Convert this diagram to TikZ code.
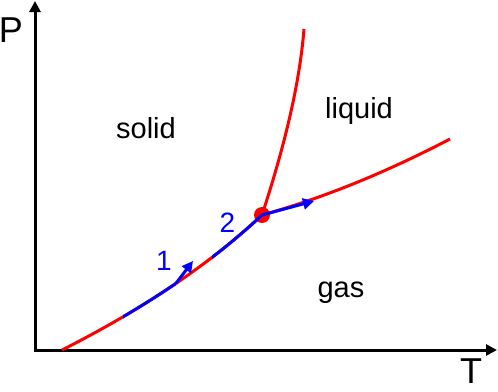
\documentclass[tikz,border=0pt]{standalone}
\usepackage{fontspec}
\setmainfont{Liberation Sans}
\usetikzlibrary{arrows.meta}

\begin{document}
\begin{tikzpicture}[x=1pt, y=-1pt, >={Triangle[length=11pt,width=11pt]},
  boundary/.style={red, line width=3pt},
  process/.style={blue, line width=3pt},
  region/.style={font=\fontsize{29}{29}\selectfont, anchor=base, inner sep=0pt},
  axislabel/.style={font=\fontsize{36}{36}\selectfont, anchor=base, inner sep=0pt}]
  \useasboundingbox (0,0) rectangle (498,391);

  % Axes
  \coordinate (O) at (35,350);
  \coordinate (Ptop) at (35,1);
  \coordinate (Tend) at (497,350);
  \draw[<->, line width=3pt] (Ptop) -- (O) -- (Tend);
  \node[axislabel] (P) at (11,42) {P};
  \node[axislabel] (T) at (471,383) {T};

  % Triple point and ends of the curves
  \coordinate (TP) at (262,215);
  \coordinate (S0) at (62,350);
  \coordinate (M1) at (304,29);
  \coordinate (V1) at (450,139);

  % Phase boundaries
  \draw[boundary] (S0) .. controls (143,309) and (210,264) .. (TP)
    coordinate[pos=0.515] (A1);
  \draw[boundary] (TP) .. controls (280,160) and (299,92) .. (M1);
  \draw[boundary] (TP) .. controls (320,199) and (383,174) .. (V1);
  \fill[red] (TP) circle (8);

  % Blue parts of the sublimation curve
  \begin{scope}
    \clip (123,0) rectangle (176,391);
    \draw[process] (S0) .. controls (143,309) and (210,264) .. (TP);
  \end{scope}
  \begin{scope}
    \clip (212,0) rectangle (266,391);
    \draw[process] (S0) .. controls (143,309) and (210,264) .. (TP);
  \end{scope}

  % Arrows
  \coordinate (A1end) at (193,261);
  \coordinate (A2end) at (314,201);
  \draw[process, ->] (A1) -- (A1end);
  \draw[process, ->] (TP) -- (A2end);
  \node[region, blue, font=\fontsize{28}{28}\selectfont] (n1) at (164,270) {1};
  \node[region, blue, font=\fontsize{28}{28}\selectfont] (n2) at (227.5,232) {2};

  % Regions
  \node[region] (solid) at (146,138) {solid};
  \node[region] (liquid) at (359,118) {liquid};
  \node[region] (gas) at (341,297) {gas};
\end{tikzpicture}
\end{document}
